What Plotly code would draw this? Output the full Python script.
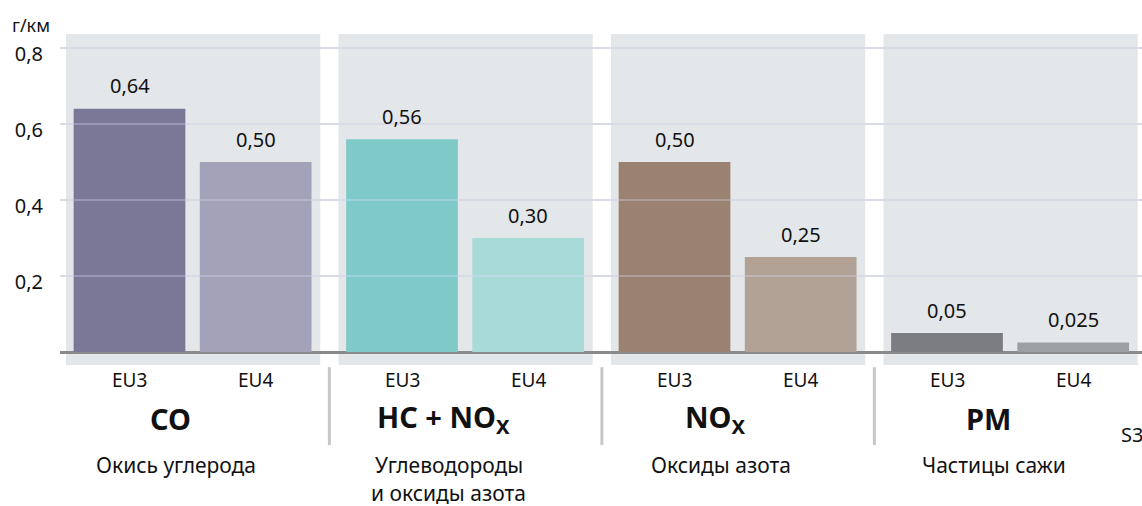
import plotly.graph_objects as go

# ---------------- data ----------------
group_names = ["CO", "HC + NO<sub>X</sub>", "NO<sub>X</sub>", "PM"]
group_descriptions = [["Окись углерода"],
                      ["Углеводороды", "и оксиды азота"],
                      ["Оксиды азота"],
                      ["Частицы сажи"]]
series_names = ["EU3", "EU4"]
eu3_values = [0.64, 0.56, 0.50, 0.05]
eu4_values = [0.50, 0.30, 0.25, 0.025]
y_tick_values = [0.2, 0.4, 0.6, 0.8]
y_tick_labels = ["0,2", "0,4", "0,6", "0,8"]
unit_label = "г/км"
corner_note = "S3"

# ---------------- style ----------------
eu3_colors = ["#7a7896", "#7fcac9", "#9b8171", "#7b7d80"]
eu4_colors = ["#a3a2b8", "#a8dad8", "#b2a295", "#9da0a3"]
panel_color = "#e4e7e9"
grid_color = "#d5d8da"
axis_color = "#8a8a8a"
sep_color = "#c8c8c8"
text_color = "#111111"
FONT = "Noto Sans"

W, H = 1142, 506
ML = 60
bar_offset = 0.463      # distance EU3 -> EU4 within a group
bar_width = 0.41
panel_left = -0.233
panel_right = 0.70
px_per_unit_x = 272.5
x0_px = 129.5           # pixel of first EU3 bar centre
y_scale = 380.0         # pixels per 1.0 g/km
y0_px = 352.0           # baseline pixel

x_range = [(ML - x0_px) / px_per_unit_x, (W - x0_px) / px_per_unit_x]
y_range = [-(H - y0_px) / y_scale, y0_px / y_scale]


def py(p):  # pixel row -> paper y
    return 1 - p / H


def px(p):  # pixel column -> paper x
    return (p - ML) / (W - ML)


def fmt(v):
    s = f"{v:.3f}".rstrip("0")
    whole, dec = s.split(".")
    dec = dec.ljust(2, "0")
    return f"{whole},{dec}"


n = len(group_names)
x_eu3 = [g for g in range(n)]
x_eu4 = [g + bar_offset for g in range(n)]
group_centers = [g + bar_offset / 2 for g in range(n)]

fig = go.Figure()
fig.add_trace(go.Bar(x=x_eu3, y=eu3_values, width=bar_width, name=series_names[0],
                     marker=dict(color=eu3_colors, line=dict(width=0)), showlegend=False))
fig.add_trace(go.Bar(x=x_eu4, y=eu4_values, width=bar_width, name=series_names[1],
                     marker=dict(color=eu4_colors, line=dict(width=0)), showlegend=False))

shapes = []
for g in range(n):
    shapes.append(dict(type="rect", xref="x", yref="y", x0=g + panel_left, x1=g + panel_right,
                       y0=-0.034, y1=0.837, fillcolor=panel_color, line=dict(width=0), layer="below"))
for g in range(n - 1):
    xs = (g + panel_right + g + 1 + panel_left) / 2
    shapes.append(dict(type="line", xref="x", yref="y", x0=xs, x1=xs, y0=-0.04, y1=-0.245,
                       line=dict(color=sep_color, width=3), layer="above"))
for t in y_tick_values:
    shapes.append(dict(type="line", xref="paper", yref="y", x0=0, x1=1, y0=t, y1=t,
                       line=dict(color="rgba(225,225,255,0.3)", width=2), layer="above"))

annotations = []
label_font = dict(family=FONT, size=20, color=text_color)
for xs, vals in ((x_eu3, eu3_values), (x_eu4, eu4_values)):
    for x, v in zip(xs, vals):
        annotations.append(dict(x=x, y=v, xref="x", yref="y", text=fmt(v), showarrow=False,
                                yshift=23, yanchor="middle", font=label_font))
for g in range(n):
    for xs, s in ((x_eu3[g], series_names[0]), (x_eu4[g], series_names[1])):
        annotations.append(dict(x=xs, y=py(380), xref="x", yref="paper", text=s, showarrow=False,
                                yanchor="middle", font=dict(family=FONT, size=19, color=text_color)))
    annotations.append(dict(x=group_centers[g] - 0.08, y=py(418), xref="x", yref="paper",
                            text="<b>" + group_names[g] + "</b>", showarrow=False, yanchor="middle",
                            font=dict(family=FONT, size=29, color=text_color)))
    for i, line in enumerate(group_descriptions[g]):
        annotations.append(dict(x=group_centers[g] - 0.06, y=py(465 + 28 * i), xref="x", yref="paper",
                                text=line, showarrow=False, yanchor="middle",
                                font=dict(family=FONT, size=21, color=text_color)))

annotations.append(dict(x=px(10), y=py(25), xref="paper", yref="paper", text=unit_label,
                        showarrow=False, xanchor="left", yanchor="middle",
                        font=dict(family=FONT, size=18, color=text_color)))
annotations.append(dict(x=px(1119), y=py(434), xref="paper", yref="paper", text=corner_note,
                        showarrow=False, xanchor="left", yanchor="middle",
                        font=dict(family=FONT, size=20, color=text_color)))

fig.update_layout(
    width=W, height=H,
    margin=dict(l=ML, r=0, t=0, b=0, pad=0),
    paper_bgcolor="white", plot_bgcolor="white",
    barmode="overlay",
    shapes=shapes, annotations=annotations,
    font=dict(family=FONT, color=text_color),
    xaxis=dict(range=x_range, visible=False, fixedrange=True),
    yaxis=dict(range=y_range, tickvals=y_tick_values, ticktext=y_tick_labels,
               showgrid=True, gridcolor=grid_color, gridwidth=2,
               zeroline=True, zerolinecolor=axis_color, zerolinewidth=3,
               ticks="outside", ticklen=12, tickcolor="rgba(0,0,0,0)",
               ticklabelshift=6,
               tickfont=dict(family=FONT, size=20, color=text_color),
               showline=False, fixedrange=True),
)

fig.write_html("out.html", config={"displayModeBar": False},
               post_script="document.body.style.margin='0';document.body.style.overflow='hidden';")
